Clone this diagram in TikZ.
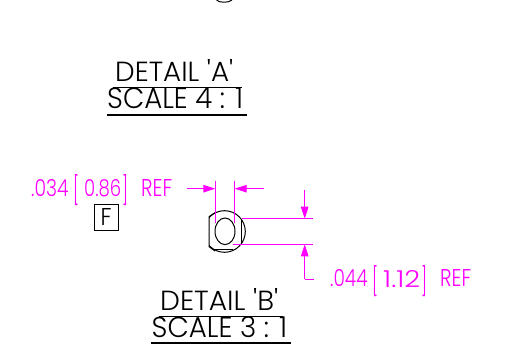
\documentclass[tikz,border=0pt]{standalone}
\usepackage{fontspec}
\setmainfont{Poppins}[UprightFont=* Light]
\usetikzlibrary{arrows.meta}
\definecolor{dimmag}{RGB}{255,0,255}
\newcommand{\fitbox}[3]{\resizebox{#1pt}{#2pt}{#3}}
\newcommand{\dimtxt}[3]{\makebox[42pt][l]{\fitbox{37.5}{17}{#1}}\makebox[11pt][l]{\raisebox{-4pt}{\fitbox{6}{26}{[}}}\makebox[38pt][l]{\fitbox{37}{17}{#2}}\makebox[19pt][l]{\raisebox{-4pt}{\fitbox{6}{26}{]}}}\fitbox{31}{17}{#3}}
\tikzset{
  x=1pt,y=-1pt,
  title/.style={anchor=base west,inner sep=0pt,text=black},
  dimlabel/.style={anchor=base west,inner sep=0pt,text=dimmag},
  rule/.style={black,line width=1.1pt},
  part/.style={black,line width=1pt},
  dimline/.style={dimmag,line width=0.9pt},
  dimarrow/.style={dimline,-{Triangle[length=12pt,width=7.5pt]}},
  flag/.style={draw=black,line width=0.8pt,inner sep=0pt,minimum width=24pt,minimum height=25.5pt}
}
\begin{document}
\begin{tikzpicture}
\useasboundingbox (0,0) rectangle (529,344);
\fill[white] (0,0) rectangle (529,344);
% top circle fragment
\draw[part] (216.5,0) .. controls (219,3) and (229,3) .. (232,0);
% titles
\node[title] (ta1) at (115,81.7) {\fitbox{118}{22}{DETAIL \textquotesingle A\textquotesingle}};
\node[title] (ta2) at (107,108.3) {\fitbox{136}{21}{SCALE 4 : 1}};
\node[title] (tb1) at (160,310) {\fitbox{118}{22}{DETAIL \textquotesingle B\textquotesingle}};
\node[title] (tb2) at (151.5,337.3) {\fitbox{135.5}{21}{SCALE 3 : 1}};
\coordinate (ua1) at (113,87.5); \coordinate (ua2) at (241.5,87.5);
\coordinate (ub1) at (107,115); \coordinate (ub2) at (247,115);
\coordinate (uc1) at (159,316.7); \coordinate (uc2) at (283,316.7);
\coordinate (ud1) at (151,343); \coordinate (ud2) at (291,343);
\draw[rule] (ua1)--(ua2); \draw[rule] (ub1)--(ub2);
\draw[rule] (uc1)--(uc2); \draw[rule] (ud1)--(ud2);
% part
\begin{scope}
\clip (209,200) rectangle (260,260);
\draw[part] (224.5,231.5) circle (20.8);
\end{scope}
\draw[part] (225,231.3) ellipse (10 and 13.3);
\draw[part] (215,212.7) -- (209,216.7) -- (209,246.7) -- (215,251);
\draw[part] (241.3,220) -- (241.3,245);
\draw[part] (215,250) -- (233,250);
% dimensions
\node[dimlabel] (d1) at (31,197) {\dimtxt{.034}{0.86}{REF}};
\node[dimlabel] (d2) at (330,287) {\dimtxt{.044}{1.12}{REF}};
\node[flag] (f) at (106,217.2) {\fitbox{11}{17}{F}};
\coordinate (a1) at (187.3,188.7); \coordinate (a2) at (215.3,188.7);
\coordinate (a3) at (264.3,188.7); \coordinate (a4) at (234.7,188.7);
\draw[dimarrow] (a1)--(a2);
\draw[dimarrow] (a3)--(a4);
\draw[dimline] (215.3,180.7)--(215.3,223);
\draw[dimline] (234.7,180.7)--(234.7,223);
\draw[dimline] (241.7,218.7)--(313,218.7);
\draw[dimline] (233,244.3)--(313,244.3);
\coordinate (b1) at (304.7,190); \coordinate (b2) at (304.7,218.7);
\coordinate (b3) at (304.7,279.3); \coordinate (b4) at (304.7,244.3);
\draw[dimarrow] (b1)--(b2);
\draw[dimarrow] (b3)--(b4);
\draw[dimline] (b3)--(314.3,279.3);
\end{tikzpicture}
\end{document}
